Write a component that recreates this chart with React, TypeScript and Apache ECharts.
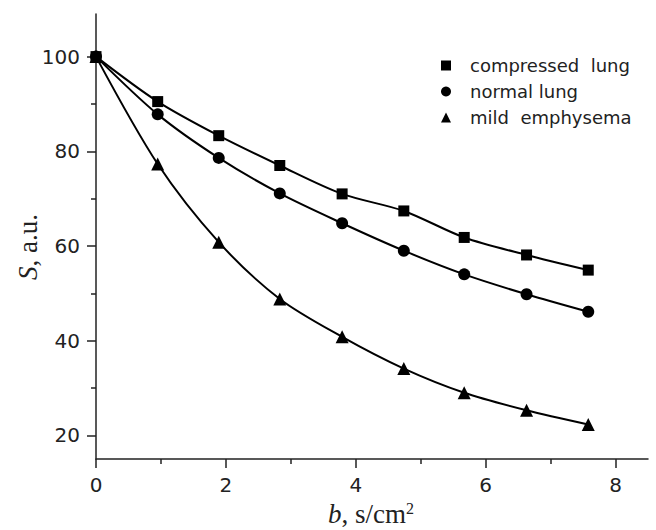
import React, { useEffect, useRef } from 'react';
import * as echarts from 'echarts';

const seriesNames = ['compressed  lung', 'normal lung', 'mild  emphysema'];
const bValues = [0, 0.95, 1.89, 2.83, 3.79, 4.74, 5.67, 6.63, 7.58];
const compressedLung = [100, 90.5, 83.3, 77.0, 71.0, 67.4, 61.8, 58.1, 54.9];
const normalLung = [100, 87.8, 78.6, 71.1, 64.8, 59.0, 54.0, 49.8, 46.1];
const mildEmphysema = [100, 77.3, 60.8, 48.8, 40.8, 34.1, 29.0, 25.3, 22.3];
const xMajorTicks = [0, 2, 4, 6, 8];
const xMinorTicks = [1, 3, 5, 7];
const yMajorTicks = [20, 40, 60, 80, 100];
const yMinorTicks = [30, 50, 70, 90];

const symbols = ['rect', 'circle', 'triangle'];
const symbolSizes = [11, 12, 13];

export default function App() {
  const ref = useRef<HTMLDivElement>(null);
  useEffect(() => {
    if (!ref.current) return;
    const chart = echarts.init(ref.current, undefined, { renderer: 'svg' });
    const allValues = [compressedLung, normalLung, mildEmphysema];
    const axisColor = '#222';
    const tickFont = { fontFamily: 'DejaVu Sans', fontSize: 20, color: '#222' };
    const xBase = {
      type: 'value', min: 0, max: 8.5,
      axisLine: { show: true, lineStyle: { color: axisColor, width: 1.5 } },
      splitLine: { show: false },
    };
    const yBase = {
      type: 'value', min: 15, max: 109,
      axisLine: { show: true, lineStyle: { color: axisColor, width: 1.5 } },
      splitLine: { show: false },
    };
    chart.setOption({
      animation: false,
      backgroundColor: '#fff',
      grid: { left: 96, right: 8, top: 14, bottom: 71, containLabel: false },
      xAxis: [
        {
          ...xBase,
          axisTick: { show: true, length: 9, customValues: xMajorTicks, lineStyle: { color: axisColor, width: 1.5 } },
          axisLabel: { ...tickFont, margin: 16, customValues: xMajorTicks },
        },
        {
          ...xBase, position: 'bottom',
          axisLine: { show: false },
          axisTick: { show: true, length: 5, customValues: xMinorTicks, lineStyle: { color: axisColor, width: 1.5 } },
          axisLabel: { show: false },
        },
      ],
      yAxis: [
        {
          ...yBase,
          axisTick: { show: true, length: 9, customValues: yMajorTicks, lineStyle: { color: axisColor, width: 1.5 } },
          axisLabel: { ...tickFont, margin: 16, customValues: yMajorTicks },
        },
        {
          ...yBase, position: 'left',
          axisLine: { show: false },
          axisTick: { show: true, length: 5, customValues: yMinorTicks, lineStyle: { color: axisColor, width: 1.5 } },
          axisLabel: { show: false },
        },
      ],
      legend: {
        orient: 'vertical',
        left: 436,
        top: 50,
        itemWidth: 10,
        itemHeight: 10,
        itemGap: 5,
        textStyle: { fontFamily: 'DejaVu Sans', fontSize: 18, color: '#222', lineHeight: 21, padding: [0, 0, 0, 14] },
        data: seriesNames.map((n, i) => ({ name: n, icon: symbols[i] === 'rect' ? 'rect' : symbols[i] })),
        itemStyle: { color: '#000' },
      },
      series: seriesNames.map((name, i) => ({
        name,
        type: 'line',
        xAxisIndex: 0,
        yAxisIndex: 0,
        smooth: 0.3,
        symbol: symbols[i],
        symbolSize: symbolSizes[i],
        showAllSymbol: true,
        data: bValues.map((b, j) => [b, allValues[i][j]]),
        lineStyle: { color: '#000', width: 2 },
        itemStyle: { color: '#000' },
        emphasis: { disabled: true },
      })),
      graphic: [
        {
          type: 'text',
          x: 28,
          y: 247,
          rotation: Math.PI / 2,
          style: {
            text: '{i|S}{n|, a.u.}',
            textAlign: 'center',
            textVerticalAlign: 'middle',
            rich: {
              i: { fontFamily: 'Liberation Serif', fontStyle: 'italic', fontSize: 27, fill: '#222' },
              n: { fontFamily: 'Liberation Serif', fontSize: 27, fill: '#222' },
            },
          },
        },
        {
          type: 'text',
          x: 371,
          y: 514,
          style: {
            text: '{i|b}{n|, s/cm}{s|2}',
            textAlign: 'center',
            textVerticalAlign: 'middle',
            rich: {
              i: { fontFamily: 'Liberation Serif', fontStyle: 'italic', fontSize: 27, fill: '#222', verticalAlign: 'bottom' },
              n: { fontFamily: 'Liberation Serif', fontSize: 27, fill: '#222', verticalAlign: 'bottom' },
              s: { fontFamily: 'Liberation Serif', fontSize: 16, fill: '#222', verticalAlign: 'top' },
            },
          },
        },
      ],
    });
    return () => chart.dispose();
  }, []);
  return <div ref={ref} style={{ width: 656, height: 530, position: 'absolute', left: 0, top: 0 }} />;
}
